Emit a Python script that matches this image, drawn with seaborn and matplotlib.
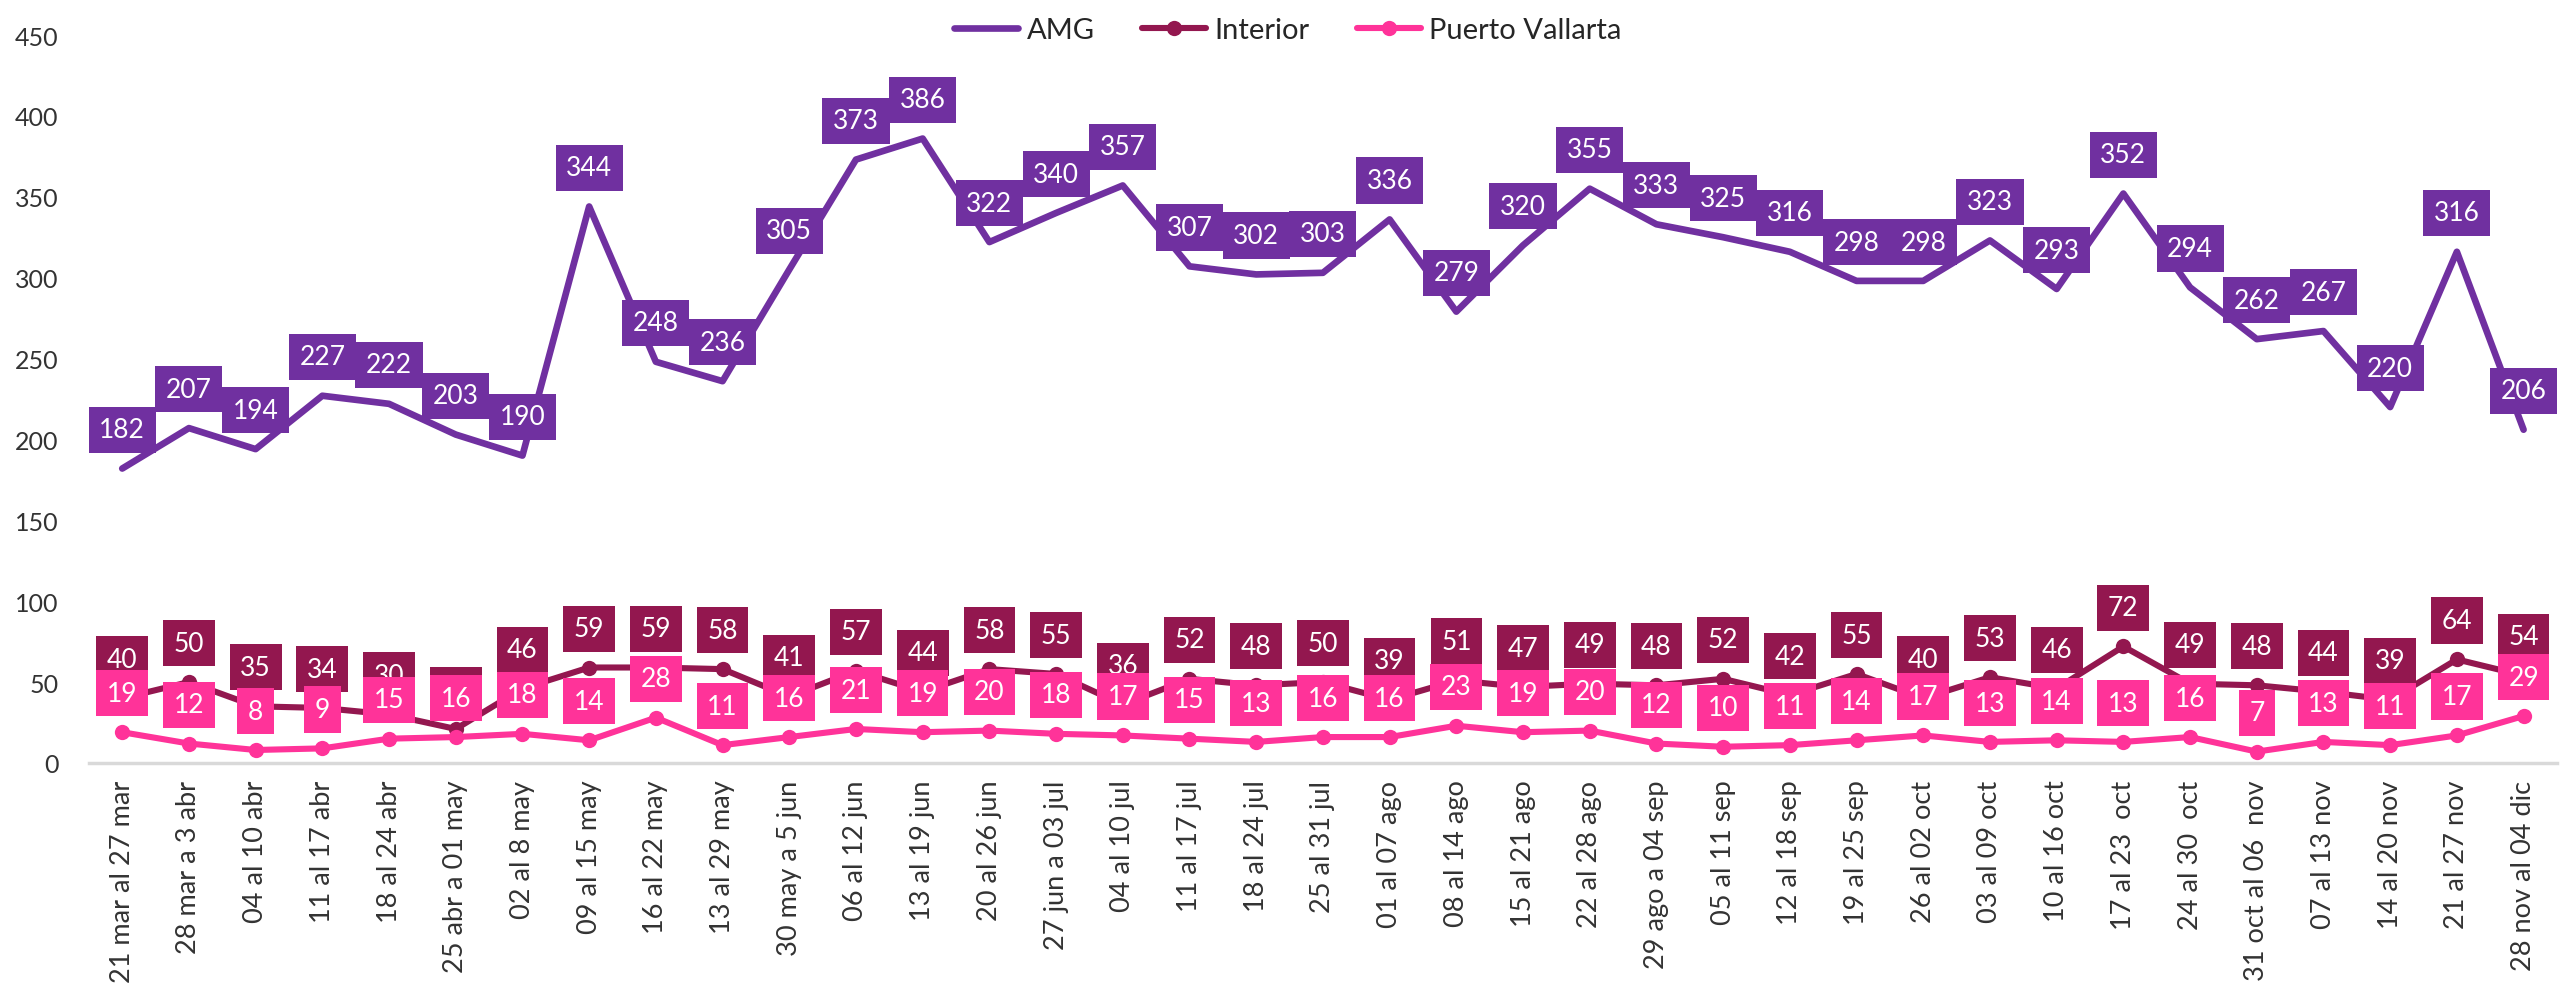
import matplotlib
matplotlib.use("Agg")
import matplotlib.pyplot as plt
import seaborn as sns
import pandas as pd

# semanas (eje x)
semanas = [
    "21 mar al 27 mar", "28 mar a 3 abr", "04 al 10 abr", "11 al 17 abr",
    "18 al 24 abr", "25 abr a 01 may", "02 al 8 may", "09 al 15 may",
    "16 al 22 may", "13 al 29 may", "30 may a 5 jun", "06 al 12 jun",
    "13 al 19 jun", "20 al 26 jun", "27 jun a 03 jul", "04 al 10 jul",
    "11 al 17 jul", "18 al 24 jul", "25 al 31 jul", "01 al 07 ago",
    "08 al 14 ago", "15 al 21 ago", "22 al 28 ago", "29 ago a 04 sep",
    "05 al 11 sep", "12 al 18 sep", "19 al 25 sep", "26 al 02 oct",
    "03 al 09 oct", "10 al 16 oct", "17 al 23  oct", "24 al 30  oct",
    "31 oct al 06  nov", "07 al 13 nov", "14 al 20 nov", "21 al 27 nov",
    "28 nov al 04 dic",
]

amg = [182, 207, 194, 227, 222, 203, 190, 344, 248, 236, 305, 373, 386,
       322, 340, 357, 307, 302, 303, 336, 279, 320, 355, 333, 325, 316,
       298, 298, 323, 293, 352, 294, 262, 267, 220, 316, 206]
interior = [40, 50, 35, 34, 30, 21, 46, 59, 59, 58, 41, 57, 44, 58, 55,
            36, 52, 48, 50, 39, 51, 47, 49, 48, 52, 42, 55, 40, 53, 46,
            72, 49, 48, 44, 39, 64, 54]
vallarta = [19, 12, 8, 9, 15, 16, 18, 14, 28, 11, 16, 21, 19, 20, 18, 17,
            15, 13, 16, 16, 23, 19, 20, 12, 10, 11, 14, 17, 13, 14, 13, 16,
            7, 13, 11, 17, 29]

series = [
    ("AMG", amg, "#7030A0", None),
    ("Interior", interior, "#93174F", "o"),
    ("Puerto Vallarta", vallarta, "#FF3399", "o"),
]

sns.set_theme(style="white")
plt.rcParams["font.family"] = ["Lato", "DejaVu Sans"]

fig, ax = plt.subplots(figsize=(25.76, 9.87), dpi=100)
fig.subplots_adjust(left=0.0345, right=0.9926, top=0.9635, bottom=0.226)

x = list(range(len(semanas)))
for i, (name, vals, color, marker) in enumerate(series):
    df = pd.DataFrame({"x": x, "valor": vals})
    sns.lineplot(data=df, x="x", y="valor", ax=ax, color=color,
                 linewidth=4.8 if marker is None else 4.4,
                 marker=marker, markersize=11, markeredgewidth=0,
                 label=name, zorder=2 + i, sort=False)
    # etiquetas de datos con fondo del color de la serie
    for xi, v in zip(x, vals):
        ax.annotate(str(v), (xi, v), xytext=(0, 28), textcoords="offset points",
                    ha="center", va="center", color="white", fontsize=19,
                    bbox=dict(boxstyle="square,pad=0.4", fc=color, ec="none"),
                    zorder=10 + i)

ax.set_xlim(-0.5, len(semanas) - 0.5)
ax.set_ylim(0, 450)
ax.set_yticks(range(0, 451, 50))
ax.set_xticks(x)
ax.set_xticklabels(semanas, rotation=90, fontsize=19.5, color="#333333")
ax.tick_params(axis="y", labelsize=18, colors="#333333", length=0, pad=22)
ax.tick_params(axis="x", length=0, pad=12)
ax.set_xlabel("")
ax.set_ylabel("")

sns.despine(ax=ax, left=True)
ax.spines["bottom"].set_color("#D9D9D9")
ax.spines["bottom"].set_linewidth(2.5)
ax.grid(False)

handles, labels = ax.get_legend_handles_labels()
ax.legend_.remove()
fig.legend(handles, labels, loc="upper center", bbox_to_anchor=(0.5, 1.008),
           ncol=3, frameon=False, fontsize=21, handlelength=2.2,
           handletextpad=0.3, columnspacing=1.6)

fig.savefig("out.png", dpi=100)
